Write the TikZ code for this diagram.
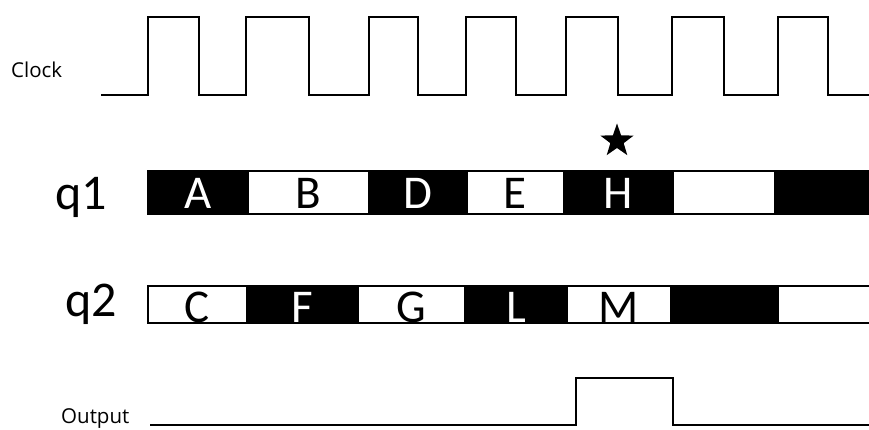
\documentclass[tikz,border=0pt]{standalone}
\usepackage{fontspec}
\setmainfont{Carlito}
\newfontfamily\labfont{Open Sans}
\usetikzlibrary{shapes.geometric}
\begin{document}
\begin{tikzpicture}[x=1pt,y=-1pt,
  wave/.style={line width=2pt, line join=miter},
  outwave/.style={line width=2.6pt, line join=miter},
  blk/.style={draw=black, line width=1.4pt, fill=black},
  wht/.style={draw=black, line width=1.4pt, fill=white},
  letter/.style={anchor=base, inner sep=0pt, font=\fontsize{47}{47}\selectfont},
  onblk/.style={letter, text=white},
  onwht/.style={letter, text=black},
  sig/.style={anchor=base west, inner sep=0pt, font=\fontsize{50}{50}\selectfont},
  small/.style={anchor=base west, inner sep=0pt, font=\labfont\fontsize{20.5}{20.5}\selectfont}
]
\useasboundingbox (0,0) rectangle (869,430);

% labels
\node[small] (clk) at (11,78) {Clock};
\node[sig] (q1) at (55,210) {q1};
\node[sig] (q2) at (65,316) {q2};
\node[small] (out) at (61,423) {Output};

% clock
\draw[wave] (101,95)
  \foreach \r/\f in {148/199, 246/309, 369/418, 466/516, 566/618, 672/724, 778/828}
  { -- (\r,95) -- (\r,17) -- (\f,17) -- (\f,95) } -- (870,95);

% q1 bar
\draw[blk] (148,171) rectangle (248,214);
\draw[wht] (248,171) rectangle (369,214);
\draw[blk] (369,171) rectangle (467,214);
\draw[wht] (467,171) rectangle (564,214);
\draw[blk] (564,171) rectangle (673,214);
\draw[wht] (673,171) rectangle (775,214);
\draw[blk] (775,171) rectangle (872,214);
\node[onblk] (A) at (198,209) {A};
\node[onwht] (B) at (308,209) {B};
\node[onblk] (D) at (418,209) {D};
\node[onwht] (E) at (515,209) {E};
\node[onblk] (H) at (618,209) {H};

% star
\node[star, star points=5, star point ratio=2.5, fill=black, minimum size=35pt, inner sep=0pt] (star) at (617,141) {};

% q2 bar
\draw[wht] (148,286) rectangle (247,323);
\draw[blk] (247,286) rectangle (358,323);
\draw[wht] (358,286) rectangle (465,323);
\draw[blk] (465,286) rectangle (567,323);
\draw[wht] (567,286) rectangle (671,323);
\draw[blk] (671,286) rectangle (778,323);
\draw[wht] (778,286) rectangle (872,323);
\node[onwht] (C) at (197,322) {C};
\node[onblk] (F) at (302,322) {F};
\node[onwht] (G) at (411,322) {G};
\node[onblk] (L) at (516,322) {L};
\node[onwht] (M) at (619,322) {M};

% output
\draw[outwave] (150,425) -- (576,425) -- (576,378) -- (673,378) -- (673,425) -- (870,425);
\end{tikzpicture}
\end{document}
